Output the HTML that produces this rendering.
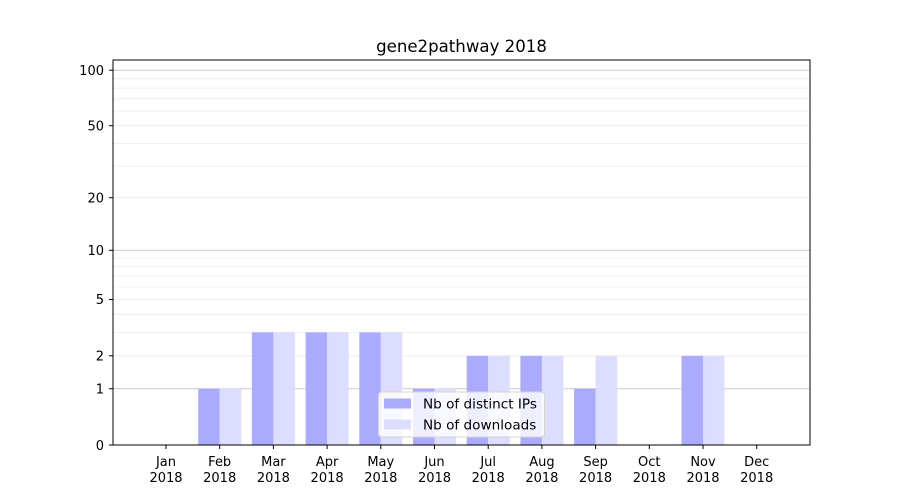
<!DOCTYPE html>
<html><head><meta charset="utf-8"><style>body{margin:0;background:#fff}svg{display:block}text{font-family:"DejaVu Sans","Liberation Sans",sans-serif;font-size:13px;fill:#000}</style></head><body>
<svg width="900" height="500" xmlns="http://www.w3.org/2000/svg">
<g stroke="#ebebeb" stroke-width="0.8">
<line x1="113" x2="810" y1="355.8" y2="355.8"/><line x1="113" x2="810" y1="332.4" y2="332.4"/><line x1="113" x2="810" y1="314.3" y2="314.3"/><line x1="113" x2="810" y1="299.5" y2="299.5"/><line x1="113" x2="810" y1="287" y2="287"/><line x1="113" x2="810" y1="276.1" y2="276.1"/><line x1="113" x2="810" y1="266.6" y2="266.6"/><line x1="113" x2="810" y1="258" y2="258"/><line x1="113" x2="810" y1="197.7" y2="197.7"/><line x1="113" x2="810" y1="166.1" y2="166.1"/><line x1="113" x2="810" y1="143.4" y2="143.4"/><line x1="113" x2="810" y1="125.7" y2="125.7"/><line x1="113" x2="810" y1="111.1" y2="111.1"/><line x1="113" x2="810" y1="98.8" y2="98.8"/><line x1="113" x2="810" y1="88.1" y2="88.1"/><line x1="113" x2="810" y1="78.7" y2="78.7"/>
</g>
<g stroke="#cccccc" stroke-width="1">
<line x1="113" x2="810" y1="388.7" y2="388.7"/><line x1="113" x2="810" y1="250.3" y2="250.3"/><line x1="113" x2="810" y1="70.2" y2="70.2"/>
</g>
<g fill="#aaaaff">
<rect x="198.2" y="388.7" width="21.5" height="56.3"/>
<rect x="251.9" y="332.4" width="21.5" height="112.6"/>
<rect x="305.6" y="332.4" width="21.5" height="112.6"/>
<rect x="359.3" y="332.4" width="21.5" height="112.6"/>
<rect x="413" y="388.7" width="21.5" height="56.3"/>
<rect x="466.7" y="355.8" width="21.5" height="89.2"/>
<rect x="520.4" y="355.8" width="21.5" height="89.2"/>
<rect x="574.1" y="388.7" width="21.5" height="56.3"/>
<rect x="681.5" y="355.8" width="21.5" height="89.2"/>
</g>
<g fill="#ddddff">
<rect x="219.7" y="388.7" width="21.5" height="56.3"/>
<rect x="273.4" y="332.4" width="21.5" height="112.6"/>
<rect x="327.1" y="332.4" width="21.5" height="112.6"/>
<rect x="380.8" y="332.4" width="21.5" height="112.6"/>
<rect x="434.5" y="388.7" width="21.5" height="56.3"/>
<rect x="488.2" y="355.8" width="21.5" height="89.2"/>
<rect x="541.9" y="355.8" width="21.5" height="89.2"/>
<rect x="595.6" y="355.8" width="21.5" height="89.2"/>
<rect x="703" y="355.8" width="21.5" height="89.2"/>
</g>
<rect x="113" y="60" width="697" height="385" fill="none" stroke="#000" stroke-width="1"/>
<g stroke="#000">
<line x1="109" x2="113" y1="445" y2="445"/><line x1="109" x2="113" y1="388.7" y2="388.7"/><line x1="109" x2="113" y1="355.8" y2="355.8"/><line x1="109" x2="113" y1="299.5" y2="299.5"/><line x1="109" x2="113" y1="250.3" y2="250.3"/><line x1="109" x2="113" y1="197.7" y2="197.7"/><line x1="109" x2="113" y1="125.7" y2="125.7"/><line x1="109" x2="113" y1="70.2" y2="70.2"/>
<line y1="445" y2="449" x1="166" x2="166"/><line y1="445" y2="449" x1="219.7" x2="219.7"/><line y1="445" y2="449" x1="273.4" x2="273.4"/><line y1="445" y2="449" x1="327.1" x2="327.1"/><line y1="445" y2="449" x1="380.8" x2="380.8"/><line y1="445" y2="449" x1="434.5" x2="434.5"/><line y1="445" y2="449" x1="488.2" x2="488.2"/><line y1="445" y2="449" x1="541.9" x2="541.9"/><line y1="445" y2="449" x1="595.6" x2="595.6"/><line y1="445" y2="449" x1="649.3" x2="649.3"/><line y1="445" y2="449" x1="703" x2="703"/><line y1="445" y2="449" x1="756.7" x2="756.7"/>
</g>
<g text-anchor="end">
<text x="104" y="450">0</text><text x="104" y="393.5">1</text><text x="104" y="360.5">2</text><text x="104" y="304">5</text><text x="104" y="255">10</text><text x="104" y="202.5">20</text><text x="104" y="130.5">50</text><text x="104" y="75">100</text>
</g>
<g text-anchor="middle">
<text x="166" y="466">Jan</text><text x="166" y="482">2018</text>
<text x="219.7" y="466">Feb</text><text x="219.7" y="482">2018</text>
<text x="273.4" y="466">Mar</text><text x="273.4" y="482">2018</text>
<text x="327.1" y="466">Apr</text><text x="327.1" y="482">2018</text>
<text x="380.8" y="466">May</text><text x="380.8" y="482">2018</text>
<text x="434.5" y="466">Jun</text><text x="434.5" y="482">2018</text>
<text x="488.2" y="466">Jul</text><text x="488.2" y="482">2018</text>
<text x="541.9" y="466">Aug</text><text x="541.9" y="482">2018</text>
<text x="595.6" y="466">Sep</text><text x="595.6" y="482">2018</text>
<text x="649.3" y="466">Oct</text><text x="649.3" y="482">2018</text>
<text x="703" y="466">Nov</text><text x="703" y="482">2018</text>
<text x="756.7" y="466">Dec</text><text x="756.7" y="482">2018</text>
<text x="461.5" y="52" style="font-size:16.6px">gene2pathway 2018</text>
</g>
<rect x="378.5" y="392" width="166" height="45" rx="3" fill="#fff" fill-opacity="0.8" stroke="#d5d5d5"/>
<rect x="384" y="398.5" width="27" height="10" fill="#aaaaff"/>
<rect x="384" y="419.5" width="27" height="10" fill="#ddddff"/>
<text x="423" y="408.5" style="font-size:13.6px">Nb of distinct IPs</text>
<text x="423" y="429.5" style="font-size:13.6px">Nb of downloads</text>
</svg>
</body></html>
